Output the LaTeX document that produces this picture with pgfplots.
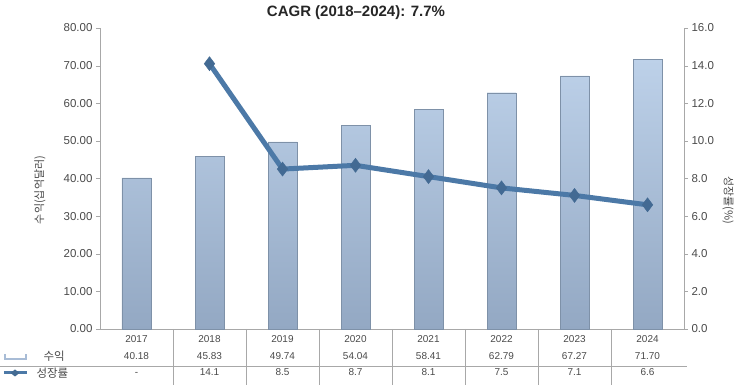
\documentclass[border=0pt]{standalone}
\usepackage{pgfplots}
\pgfplotsset{compat=1.18}
\usepackage{fontspec}
\setmainfont{Liberation Sans}
\newfontfamily\kr{Noto Sans CJK KR}
\definecolor{bartop}{HTML}{BDD1E9}
\definecolor{barbot}{HTML}{93A8C3}
\definecolor{barline}{HTML}{7E91A8}
\definecolor{linec}{HTML}{4C79A7}
\definecolor{axc}{HTML}{A8A8A8}
\definecolor{txt}{HTML}{4A4A4A}
\begin{document}
\begin{tikzpicture}[font=\fontsize{10}{11}\selectfont]
\begin{axis}[name=ax, scale only axis, width=584pt, height=301pt,
  xmin=-0.5, xmax=7.5, ymin=0, ymax=80, ytick={0,10,...,80},
  axis y line*=left, axis x line*=bottom,
  axis line style={draw=axc, line width=0.8pt},
  every outer x axis line/.style={draw=axc},
  every outer y axis line/.style={draw=axc},
  xtick={0,...,7},
  xticklabels={{2017\\[6pt]40.18\\[5pt]-},{2018\\[6pt]45.83\\[5pt]14.1},{2019\\[6pt]49.74\\[5pt]8.5},{2020\\[6pt]54.04\\[5pt]8.7},{2021\\[6pt]58.41\\[5pt]8.1},{2022\\[6pt]62.79\\[5pt]7.5},{2023\\[6pt]67.27\\[5pt]7.1},{2024\\[6pt]71.70\\[5pt]6.6}},
  x tick label style={align=center, text=txt, yshift=1pt},
  major x tick style={draw=none},
  y tick label style={text=txt, font=\fontsize{11.5}{12}\selectfont},
  major y tick style={draw=axc},
  tick align=outside, major tick length=4pt,
  yticklabel style={/pgf/number format/.cd, fixed, fixed zerofill, precision=2, assume math mode=true},
  clip=false]
\addplot[ybar, bar width=29pt, draw=barline, top color=bartop, bottom color=barbot]
  coordinates {(0,40.18) (1,45.83) (2,49.74) (3,54.04) (4,58.41) (5,62.79) (6,67.27) (7,71.70)};
\end{axis}
\begin{axis}[scale only axis, width=584pt, height=301pt,
  xmin=-0.5, xmax=7.5, ymin=0, ymax=16, ytick={0,2,...,16},
  axis y line*=right, axis x line=none,
  axis line style={draw=axc, line width=0.8pt},
  every outer y axis line/.style={draw=axc},
  y tick label style={text=txt, font=\fontsize{11.5}{12}\selectfont},
  major y tick style={draw=axc},
  tick align=outside, major tick length=4pt,
  yticklabel style={/pgf/number format/.cd, fixed, fixed zerofill, precision=1, assume math mode=true},
  clip=false]
\addplot[linec, line width=5pt, mark=diamond*, mark size=7pt, mark options={fill=linec!88!black, draw=linec!88!black, line width=0.5pt}]
  coordinates {(1,14.1) (2,8.5) (3,8.7) (4,8.1) (5,7.5) (6,7.1) (7,6.6)};
\end{axis}
% table grid
\foreach \k in {1,...,7} {
  \draw[axc, line width=0.6pt] ([xshift=\k*73pt]ax.south west) -- ++(0,-56pt);
}
\draw[axc, line width=0.6pt] ([shift={(-100pt,-37pt)}]ax.south west) -- ++(687pt,0);
% row headers
\node[anchor=west, text=txt, font=\fontsize{11.5}{12}\selectfont] at ([shift={(-60pt,-27pt)}]ax.south west) {\kr 수익};
\node[anchor=west, text=txt, font=\fontsize{11.5}{12}\selectfont] at ([shift={(-67pt,-44pt)}]ax.south west) {\kr 성장률};
\draw[bartop!50!barbot, line width=1.2pt] ([shift={(-95pt,-25pt)}]ax.south west) -- ++(0,-5pt) -- ++(21pt,0) -- ++(0,5pt);
\draw[linec, line width=3pt] ([shift={(-96pt,-44pt)}]ax.south west) -- ++(23pt,0);
\fill[linec!88!black] ([shift={(-85pt,-44pt)}]ax.south west) ++(-4.5pt,0) -- ++(4.5pt,3.5pt) -- ++(4.5pt,-3.5pt) -- ++(-4.5pt,-3.5pt) -- cycle;
% axis titles
\node[rotate=90, text=txt, font=\fontsize{11}{12}\selectfont] at ([xshift=-60pt,yshift=-11.5pt]ax.west) {\kr 수익(십억달러)};
\node[rotate=-90, text=txt, font=\fontsize{11}{12}\selectfont] at ([xshift=44pt,yshift=-21.5pt]ax.east) {\kr 성장률(\%)};
\node[font=\bfseries\fontsize{15}{17}\selectfont, text=black!85] at ([xshift=-36pt,yshift=15pt]ax.north) {CAGR (2018–2024): 7.7\%};
\pgfresetboundingbox
\path[use as bounding box] ([shift={(-100pt,-56pt)}]ax.south west) rectangle ([shift={(65pt,28pt)}]ax.north east);
\end{tikzpicture}
\end{document}
